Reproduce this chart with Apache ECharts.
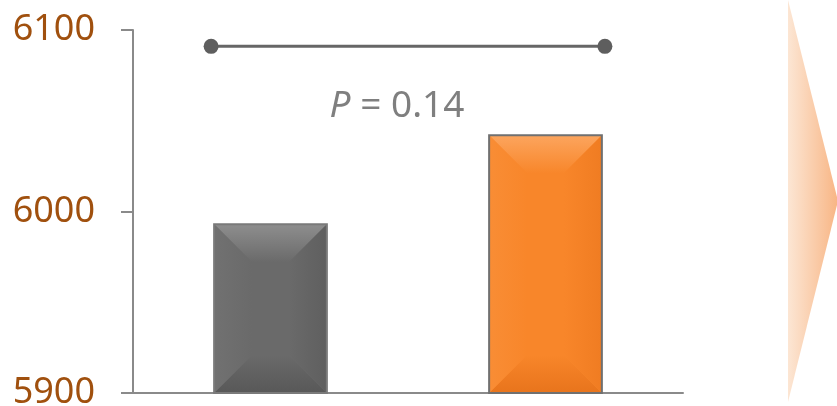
<!DOCTYPE html>
<html>
<head>
<meta charset="utf-8">
<script src="https://cdn.jsdelivr.net/npm/echarts@6/dist/echarts.min.js"></script>
<style>html,body{margin:0;padding:0;background:#fff}#c{width:837px;height:406px}</style>
</head>
<body>
<div id="c"></div>
<script>
// ---- data ----
const categories = ['Group 1', 'Group 2'];
const barValues = [5993, 6042];
const yTicks = [5900, 6000, 6100];
const bracketY = 6091;
const bracketSpan = [-0.216, 1.216];
const pText = '0.14';
const pTextPos = [0.46, 6058];

// ---- styles ----
const palette = [
  {base:'#6a6a6a', top:'#8e8e8e', bottom:'#585858', left:'#717171', right:'#5f5f5f', border:'#7a7a7a'},
  {base:'#F8862A', top:'#FCA55E', bottom:'#E8741C', left:'#F98D35', right:'#F07C22', border:'#707070'}
];
const yMin = yTicks[0], yMax = yTicks[yTicks.length-1];

const chart = echarts.init(document.getElementById('c'));

function lg(x2, y2, c1, c2){
  return {type:'linear', x:0, y:0, x2:x2, y2:y2, colorStops:[{offset:0,color:c1},{offset:1,color:c2}]};
}

chart.setOption({
  backgroundColor:'#ffffff',
  animation:false,
  grid:{left:133, right:154, top:30, bottom:13, containLabel:false, outerBoundsMode:'none'},
  xAxis:[
    {type:'category', data:categories, boundaryGap:true,
     axisLine:{show:true, onZero:false, lineStyle:{color:'#8a8a8a', width:2}},
     axisTick:{show:false}, axisLabel:{show:false}},
    {type:'value', min:-0.5, max:1.5, show:false}
  ],
  yAxis:{type:'value', min:yMin, max:yMax, interval:100,
    axisLine:{show:true, onZero:false, lineStyle:{color:'#8a8a8a', width:2}},
    axisTick:{show:true, length:12, inside:false, lineStyle:{color:'#8a8a8a', width:2}},
    splitLine:{show:false},
    axisLabel:{color:'#A0500E', fontSize:36, fontFamily:'Noto Sans', margin:38,
      formatter:function(v){return String(v);}}
  },
  graphic:[{
    type:'polygon', z:0,
    shape:{points:[[788,0],[838,201],[788,402]]},
    style:{fill:lg(1,0,'#FCE6D4','#F8B584')}
  }],
  series:[
    {
      type:'custom', xAxisIndex:0, yAxisIndex:0,
      data:barValues.map((v,i)=>[i,v]),
      renderItem:function(params, api){
        const i = api.value(0), v = api.value(1);
        const p1 = api.coord([i, v]);
        const p0 = api.coord([i, yMin]);
        const bw = api.size([1,0])[0]*0.41;
        const l = p1[0]-bw/2, r = p1[0]+bw/2, t = p1[1], b = p0[1];
        const d = Math.min(38, (b-t)/2);
        const c = palette[i];
        return {type:'group', children:[
          {type:'rect', shape:{x:l,y:t,width:r-l,height:b-t}, style:{fill:c.base}},
          {type:'polygon', shape:{points:[[l,t],[r,t],[r-d,t+d],[l+d,t+d]]}, style:{fill:lg(0,1,c.top,c.base)}},
          {type:'polygon', shape:{points:[[l,b],[r,b],[r-d,b-d],[l+d,b-d]]}, style:{fill:lg(0,1,c.base,c.bottom)}},
          {type:'polygon', shape:{points:[[l,t],[l+d,t+d],[l+d,b-d],[l,b]]}, style:{fill:lg(1,0,c.left,c.base)}},
          {type:'polygon', shape:{points:[[r,t],[r-d,t+d],[r-d,b-d],[r,b]]}, style:{fill:lg(1,0,c.base,c.right)}},
          {type:'rect', shape:{x:l,y:t,width:r-l,height:b-t}, style:{fill:null, stroke:c.border, lineWidth:2}}
        ]};
      }
    },
    {
      type:'line', xAxisIndex:1, yAxisIndex:0,
      data:bracketSpan.map(x=>[x, bracketY]),
      symbol:'circle', symbolSize:15,
      itemStyle:{color:'#5e5e5e'},
      lineStyle:{color:'#666666', width:3},
      z:5
    },
    {
      type:'scatter', xAxisIndex:1, yAxisIndex:0,
      data:[pTextPos], symbolSize:0,
      label:{show:true, position:'inside',
        formatter:'{i|P} = ' + pText,
        color:'#5f5f5f', fontSize:37, fontFamily:'Noto Sans',
        rich:{i:{fontStyle:'italic', color:'#5f5f5f', fontSize:37, fontFamily:'Noto Sans'}}
      }
    }
  ]
});
</script>
</body>
</html>
